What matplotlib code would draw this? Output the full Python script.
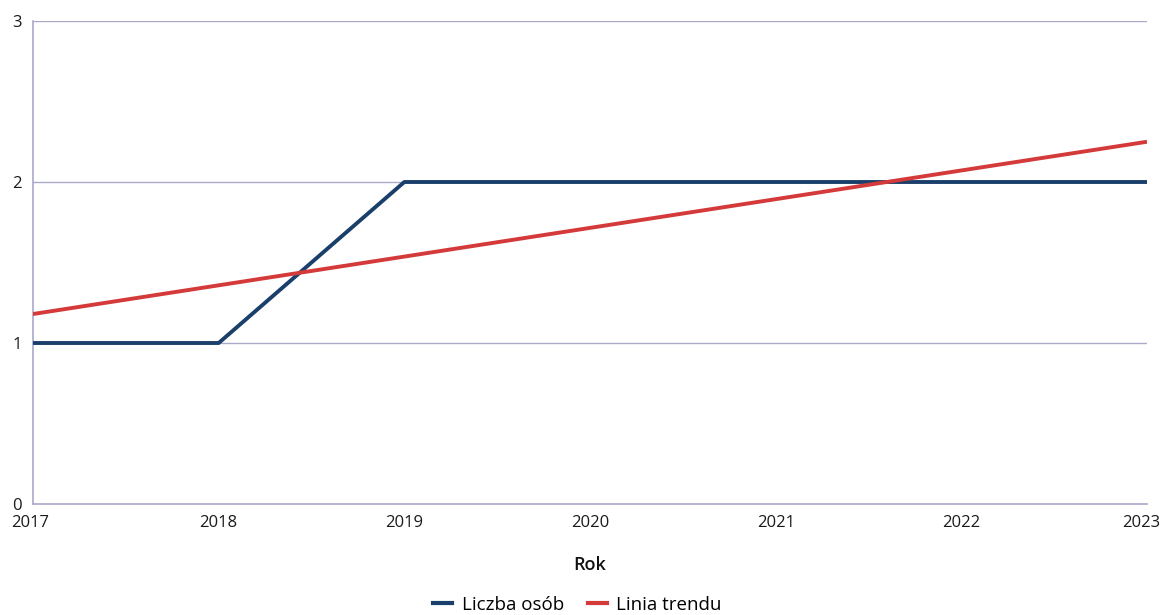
import matplotlib
matplotlib.use("Agg")
import matplotlib.pyplot as plt
import matplotlib.transforms as mtransforms
from matplotlib.lines import Line2D

years = [2017, 2018, 2019, 2020, 2021, 2022, 2023]
counts = [1, 1, 2, 2, 2, 2, 2]
trend_years = [2017, 2023]
trend_values = [1.18, 2.25]
y_ticks = [0, 1, 2, 3]

plt.rcParams['font.family'] = ['Open Sans', 'DejaVu Sans']

fig = plt.figure(figsize=(11.62, 6.15), dpi=100)
ax = fig.add_axes([33/1162, 1 - 504/615, (1147-33)/1162, (504-21)/615])

grid_c = '#a9a9c8'
for v in y_ticks[1:]:
    ax.axhline(v, color=grid_c, lw=1.0, zorder=1)

ax.plot(years, counts, color='#1b3f6b', lw=2.8, zorder=3, solid_capstyle='butt')
ax.plot(trend_years, trend_values, color='#d43a3a', lw=2.8, zorder=3, solid_capstyle='butt')

ax.set_xlim(2017, 2023)
ax.set_ylim(0, 3)
ax.set_xticks(years)
ax.set_xticklabels([str(y) for y in years], fontsize=12, color='#1a1a1a')
ax.set_yticks(y_ticks)
ax.set_yticklabels([str(v) for v in y_ticks], fontsize=12, color='#1a1a1a')
ax.tick_params(length=0)
ax.tick_params(axis='x', pad=8)
ax.tick_params(axis='y', pad=8)
for s in ['top', 'right']:
    ax.spines[s].set_visible(False)
for s in ['left', 'bottom']:
    ax.spines[s].set_color(grid_c)
    ax.spines[s].set_linewidth(1.2)

# nudge edge labels slightly left as in the reference
xlabels = ax.get_xticklabels()
shift = mtransforms.ScaledTranslation(-6/100, 0, fig.dpi_scale_trans)
xlabels[-1].set_transform(xlabels[-1].get_transform() + shift)
shift0 = mtransforms.ScaledTranslation(-3/100, 0, fig.dpi_scale_trans)
xlabels[0].set_transform(xlabels[0].get_transform() + shift0)

ax.set_xlabel('Rok', fontsize=13, fontweight='semibold', color='#111111', labelpad=18)

handles = [Line2D([], [], color='#1b3f6b', lw=3),
           Line2D([], [], color='#d43a3a', lw=3)]
fig.legend(handles, ['Liczba osób', 'Linia trendu'], loc='center', bbox_to_anchor=(0.497, 0.017),
           ncol=2, frameon=False, fontsize=13.5, handlelength=1.0, handletextpad=0.5, columnspacing=1.3)

fig.savefig('out.png', dpi=100)
